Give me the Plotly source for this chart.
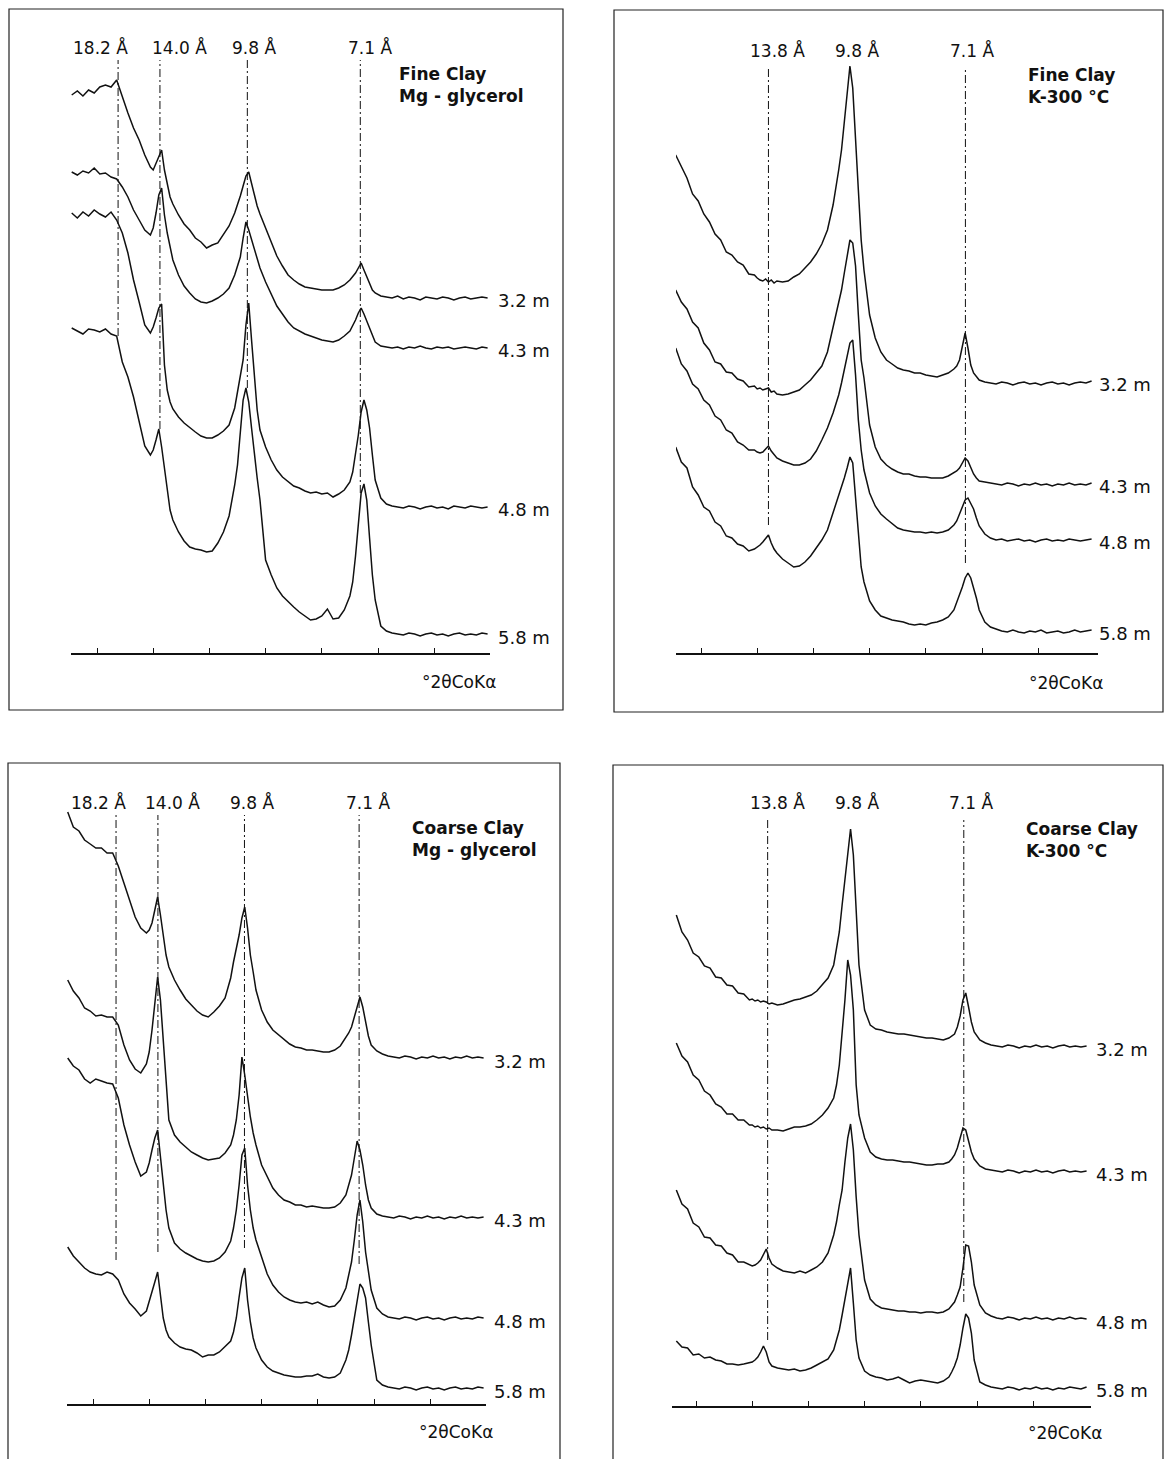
import plotly.graph_objects as go

W, H = 1165, 1459
PX_PER_DEG = 28.1

# Diffractometer sampling positions, degrees 2-theta (Co K-alpha)
two_theta = [4.1, 4.3, 4.5, 4.7, 4.9, 5.1, 5.3, 5.5, 5.7, 5.9, 6.1, 6.3, 6.5, 6.7, 6.9,
             7.0, 7.1, 7.2, 7.3, 7.4, 7.5, 7.6, 7.7,
             7.9, 8.1, 8.3, 8.5, 8.7, 8.9, 9.1, 9.3, 9.5, 9.7, 9.9,
             10.0, 10.1, 10.2, 10.3, 10.4, 10.5, 10.6, 10.7, 10.8,
             11.0, 11.2, 11.4, 11.6, 11.8, 12.0, 12.2, 12.4, 12.6, 12.8, 13.0, 13.2, 13.4, 13.6, 13.8,
             14.0, 14.1, 14.2, 14.3, 14.4, 14.5, 14.6, 14.7, 14.8, 14.9,
             15.1, 15.3, 15.5, 15.7, 15.9, 16.1, 16.3, 16.5, 16.7, 16.9, 17.1, 17.3, 17.5,
             17.7, 17.9, 18.1, 18.3, 18.5, 18.7, 18.9]
tick_2theta = [5, 7, 9, 11, 13, 15, 17]
depth_labels = ["3.2 m", "4.3 m", "4.8 m", "5.8 m"]

# Stacked intensities (arbitrary units), fine clay, Mg-glycerol
fine_mg_3_2 = [558, 562, 557, 563, 560, 566, 568, 566, 573, 556, 540, 525, 513, 498, 486,
               483, 490, 498, 503, 483, 468, 456, 449,
               438, 429, 423, 415, 411, 405, 408, 410, 418, 427, 440,
               448, 457, 467, 477, 481, 469, 457, 447, 439,
               425, 411, 397, 387, 378, 373, 369, 366, 365, 364, 363, 363, 363, 365, 368,
               373, 376, 380, 385, 390, 383, 376, 369, 363, 360,
               357, 356, 355, 357, 354, 356, 355, 353, 356, 355, 354, 356, 355, 353, 355, 356, 354, 355, 356, 355]
fine_mg_4_3 = [481, 478, 482, 480, 485, 479, 480, 476, 474, 466, 456, 443, 433, 423, 418,
               425, 440, 458, 465, 438, 420, 405, 393,
               378, 367, 360, 354, 351, 350, 352, 355, 359, 365, 378,
               388, 396, 415, 431, 423, 414, 404, 394, 385,
               371, 359, 347, 339, 331, 325, 322, 319, 317, 315, 313, 312, 311, 313, 317,
               322, 327, 333, 340, 345, 339, 332, 324, 316, 311,
               307, 306, 305, 306, 304, 306, 305, 307, 305, 304, 306, 305, 306, 304, 305, 306, 305, 304, 306, 305]
fine_mg_4_8 = [440, 435, 441, 437, 443, 439, 436, 441, 433, 420, 400, 373, 351, 328, 320,
               326, 335, 345, 349, 288, 263, 251, 244,
               236, 230, 225, 221, 217, 215, 215, 218, 222, 228, 245,
               261, 275, 293, 328, 350, 313, 273, 243, 223,
               206, 193, 183, 176, 171, 167, 165, 162, 160, 161, 159, 160, 156, 159, 163,
               171, 181, 198, 218, 241, 253, 243, 225, 198, 173,
               155, 149, 147, 146, 145, 147, 146, 144, 146, 147, 145, 146, 144, 147, 146, 145, 147, 146, 145, 146]
fine_mg_5_8 = [325, 322, 319, 324, 323, 321, 324, 319, 317, 291, 276, 256, 233, 207, 198,
               203, 213, 224, 206, 183, 161, 143, 133,
               121, 112, 106, 104, 103, 101, 102, 110, 121, 137, 168,
               188, 218, 253, 265, 251, 225, 198, 175, 153,
               93, 78, 65, 57, 51, 46, 41, 37, 33, 34, 37, 44, 34, 35, 43,
               57, 71, 97, 133, 160, 169, 153, 115, 78, 53,
               27, 22, 20, 19, 18, 20, 19, 17, 19, 20, 18, 19, 17, 19, 20, 18, 19, 18, 20, 19]

# Fine clay, K-saturated and heated to 300 C
fine_k_3_2 = [498, 486, 475, 459, 452, 439, 431, 419, 413, 401, 398, 391, 388, 379, 378,
              375, 373, 372, 374, 371, 373, 370, 372,
              371, 372, 376, 379, 385, 391, 399, 409, 423, 448, 483,
              503, 531, 558, 587, 565, 508, 463, 413, 383,
              338, 315, 301, 293, 289, 285, 283, 282, 280, 280, 278, 277, 276, 278, 280,
              284, 287, 293, 308, 320, 305, 288, 280, 276, 273,
              271, 270, 269, 271, 270, 268, 270, 271, 269, 270, 268, 270, 271, 269, 270, 268, 270, 271, 270, 272]
fine_k_4_3 = [363, 351, 344, 331, 325, 310, 303, 291, 289, 281, 280, 274, 272, 266, 267,
              264, 265, 263, 264, 265, 261, 262, 259,
              258, 259, 261, 263, 268, 273, 280, 287, 301, 325, 350,
              363, 380, 398, 413, 410, 387, 338, 293, 275,
              228, 206, 194, 188, 184, 181, 179, 179, 177, 176, 176, 175, 175, 175, 177,
              180, 182, 185, 190, 195, 192, 185, 179, 175, 172,
              171, 170, 169, 168, 170, 169, 167, 169, 168, 170, 168, 169, 167, 169, 168, 170, 168, 169, 168, 170]
fine_k_4_8 = [305, 289, 282, 269, 264, 253, 248, 237, 233, 223, 220, 211, 208, 203, 203,
              201, 200, 201, 204, 207, 202, 198, 195,
              192, 190, 188, 188, 190, 194, 202, 213, 225, 240, 258,
              270, 283, 296, 310, 313, 278, 233, 203, 183,
              160, 147, 139, 134, 129, 125, 123, 122, 121, 121, 120, 121, 120, 121, 123,
              128, 132, 139, 147, 153, 155, 150, 144, 135, 127,
              119, 115, 113, 114, 112, 113, 114, 112, 113, 111, 113, 114, 112, 113, 112, 114, 113, 112, 113, 114]
fine_k_5_8 = [206, 191, 185, 166, 158, 146, 142, 131, 127, 117, 115, 109, 107, 102, 104,
              106, 108, 111, 115, 118, 110, 104, 100,
              94, 90, 86, 87, 91, 97, 105, 113, 123, 140, 158,
              167, 175, 185, 196, 190, 153, 118, 86, 71,
              52, 43, 37, 35, 33, 32, 31, 29, 28, 29, 28, 30, 31, 33, 36,
              43, 50, 58, 66, 75, 80, 75, 66, 55, 43,
              31, 26, 24, 22, 21, 23, 21, 20, 22, 21, 23, 20, 21, 22, 20, 21, 23, 21, 22, 23]

# Coarse clay, Mg-glycerol
coarse_mg_3_2 = [592, 577, 573, 564, 560, 556, 556, 551, 551, 538, 521, 504, 487, 476, 471,
                 474, 481, 494, 507, 489, 467, 449, 437,
                 424, 414, 405, 399, 393, 389, 387, 392, 398, 406, 426,
                 442, 454, 469, 486, 497, 476, 449, 432, 414,
                 394, 382, 374, 369, 364, 360, 357, 356, 354, 354, 353, 352, 352, 354, 358,
                 366, 371, 377, 387, 399, 407, 397, 384, 368, 359,
                 353, 350, 348, 347, 346, 348, 347, 345, 347, 346, 348, 346, 347, 345, 347, 346, 348, 346, 347, 346]
coarse_mg_4_3 = [424, 413, 406, 396, 393, 388, 389, 387, 387, 379, 359, 344, 335, 331, 340,
                 352, 374, 404, 427, 404, 364, 324, 284,
                 269, 262, 257, 252, 249, 246, 244, 245, 246, 251, 259,
                 269, 284, 309, 347, 329, 306, 287, 271, 259,
                 239, 227, 216, 209, 204, 202, 199, 199, 197, 198, 197, 196, 196, 197, 201,
                 209, 219, 229, 246, 263, 254, 239, 219, 204, 196,
                 190, 188, 187, 186, 188, 187, 185, 187, 186, 188, 186, 187, 185, 187, 186, 188, 186, 187, 186, 187]
coarse_mg_4_8 = [346, 338, 334, 325, 321, 325, 323, 321, 320, 306, 279, 259, 242, 228, 232,
                 241, 254, 266, 274, 249, 219, 194, 176,
                 161, 155, 151, 148, 145, 143, 142, 143, 146, 152, 163,
                 176, 194, 219, 249, 256, 219, 194, 176, 164,
                 148, 130, 119, 112, 107, 104, 102, 101, 102, 100, 102, 99, 97, 98, 104,
                 116, 129, 142, 164, 189, 204, 182, 152, 131, 114,
                 96, 90, 87, 86, 85, 87, 86, 84, 86, 87, 85, 86, 84, 86, 87, 85, 86, 85, 87, 86]
coarse_mg_5_8 = [157, 148, 142, 136, 132, 130, 129, 132, 130, 124, 110, 101, 95, 88, 93,
                 102, 112, 122, 132, 109, 86, 74, 67,
                 61, 57, 55, 54, 51, 47, 49, 49, 52, 57, 63,
                 72, 86, 107, 126, 136, 104, 82, 66, 56,
                 44, 37, 33, 31, 29, 28, 27, 27, 28, 28, 30, 27, 26, 27, 31,
                 44, 54, 69, 86, 106, 120, 116, 106, 82, 59,
                 24, 19, 17, 16, 15, 17, 16, 14, 16, 17, 15, 16, 14, 16, 17, 15, 16, 15, 17, 16]

# Coarse clay, K-saturated and heated to 300 C
coarse_k_3_2 = [None, 491, 474, 466, 453, 449, 440, 438, 429, 428, 421, 420, 413, 412, 406,
                407, 405, 406, 404, 405, 404, 402, 403,
                401, 402, 404, 406, 407, 409, 411, 415, 421, 428, 441,
                456, 474, 501, 526, 556, 577, 551, 496, 441,
                396, 381, 377, 376, 374, 373, 372, 372, 371, 370, 369, 368, 368, 367, 366,
                368, 370, 372, 379, 390, 406, 413, 399, 384, 374,
                366, 363, 361, 360, 359, 361, 360, 358, 360, 359, 361, 359, 360, 358, 360, 361, 359, 360, 359, 360]
coarse_k_4_3 = [None, 363, 350, 344, 331, 326, 315, 311, 302, 299, 292, 292, 286, 286, 281,
                281, 279, 280, 278, 279, 277, 278, 276,
                276, 275, 277, 279, 279, 280, 282, 286, 291, 298, 308,
                321, 341, 371, 406, 446, 431, 396, 321, 291,
                268, 254, 249, 247, 246, 246, 245, 244, 244, 243, 242, 241, 241, 242, 242,
                244, 247, 251, 258, 268, 278, 276, 264, 254, 247,
                240, 237, 236, 235, 234, 236, 235, 233, 235, 234, 236, 234, 235, 233, 235, 236, 234, 235, 234, 235]
coarse_k_4_8 = [None, 216, 202, 197, 183, 179, 169, 168, 161, 160, 153, 151, 144, 144, 141,
                140, 141, 143, 146, 151, 157, 148, 142,
                138, 135, 134, 133, 135, 133, 136, 139, 144, 153, 171,
                184, 201, 216, 244, 268, 282, 256, 209, 171,
                126, 107, 101, 98, 97, 96, 95, 95, 94, 94, 93, 94, 94, 93, 94,
                97, 100, 104, 111, 119, 138, 161, 160, 144, 121,
                101, 93, 90, 88, 87, 89, 88, 86, 88, 87, 89, 87, 88, 86, 88, 87, 89, 87, 88, 87]
coarse_k_5_8 = [None, 65, 59, 58, 51, 52, 48, 49, 46, 45, 42, 42, 41, 42, 43,
                44, 46, 49, 54, 60, 54, 44, 40,
                38, 37, 36, 37, 35, 36, 38, 41, 44, 47, 56,
                66, 76, 91, 106, 123, 138, 103, 66, 48,
                35, 31, 29, 28, 26, 27, 29, 26, 23, 25, 26, 25, 24, 23, 25,
                29, 34, 40, 48, 61, 78, 92, 88, 73, 46,
                24, 21, 19, 18, 17, 19, 18, 16, 18, 17, 19, 17, 18, 16, 18, 17, 19, 18, 17, 19]

# Reflections marked in each panel: d-spacing text and position (degrees 2-theta)
mg_d_labels = ["18.2 Å", "14.0 Å", "9.8 Å", "7.1 Å"]
fine_mg_peaks = [5.75, 7.24, 10.35, 14.37]
coarse_mg_peaks = [5.82, 7.31, 10.39, 14.47]
k_d_labels = ["13.8 Å", "9.8 Å", "7.1 Å"]
fine_k_peaks = [7.40, None, 14.41]
coarse_k_peaks = [7.55, None, 14.53]

FONT = "DejaVu Sans, Liberation Sans, Arial, sans-serif"

panels = [
    dict(title=("Fine Clay", "Mg - glycerol"),
         series=[fine_mg_3_2, fine_mg_4_3, fine_mg_4_8, fine_mg_5_8],
         d_labels=mg_d_labels, peaks=fine_mg_peaks,
         box=(9, 9, 563, 710), deg5_px=97, axis_px=(71, 490), axis_y=653, top_y=9,
         label_px=[100, 179, 254, 370], label_y=48, line_top_y=60, line_gap=0,
         title_px=(397, 85), depth_x=496, unit_px=(420, 682)),
    dict(title=("Fine Clay", "K-300 °C"),
         series=[fine_k_3_2, fine_k_4_3, fine_k_4_8, fine_k_5_8],
         d_labels=k_d_labels, peaks=fine_k_peaks,
         box=(614, 10, 1163, 712), deg5_px=701, axis_px=(676, 1098), axis_y=653, top_y=10,
         label_px=[777, 857, 972], label_y=50, line_top_y=67, line_gap=10,
         title_px=(1026, 86), depth_x=1097, unit_px=(1027, 683)),
    dict(title=("Coarse Clay", "Mg - glycerol"),
         series=[coarse_mg_3_2, coarse_mg_4_3, coarse_mg_4_8, coarse_mg_5_8],
         d_labels=mg_d_labels, peaks=coarse_mg_peaks,
         box=(8, 763, 560, 1465), deg5_px=93, axis_px=(67, 486), axis_y=1404, top_y=763,
         label_px=[98, 172, 252, 368], label_y=803, line_top_y=815, line_gap=20,
         title_px=(410, 839), depth_x=492, unit_px=(417, 1432)),
    dict(title=("Coarse Clay", "K-300 °C"),
         series=[coarse_k_3_2, coarse_k_4_3, coarse_k_4_8, coarse_k_5_8],
         d_labels=k_d_labels, peaks=coarse_k_peaks,
         box=(613, 765, 1163, 1465), deg5_px=696, axis_px=(672, 1091), axis_y=1406, top_y=765,
         label_px=[777, 857, 971], label_y=803, line_top_y=820, line_gap=12,
         title_px=(1024, 840), depth_x=1094, unit_px=(1026, 1433)),
]


def px_x(px):
    return px / W


def px_y(py):
    return 1 - py / H


def peak_height(xs, ys, pos, half_width=0.11):
    vals = [y for x, y in zip(xs, ys) if y is not None and abs(x - pos) <= half_width]
    return max(vals)


fig = go.Figure()
annotations = []
shapes = []
black = "#111111"

for i, p in enumerate(panels, start=1):
    sfx = "" if i == 1 else str(i)
    xref, yref = "x" + sfx, "y" + sfx
    x_lo = 5 + (p["axis_px"][0] - p["deg5_px"]) / PX_PER_DEG
    x_hi = 5 + (p["axis_px"][1] - p["deg5_px"]) / PX_PER_DEG
    y_hi = p["axis_y"] - p["top_y"]

    fig.layout["xaxis" + sfx] = dict(
        domain=[px_x(p["axis_px"][0]), px_x(p["axis_px"][1])], range=[x_lo, x_hi],
        anchor=yref, showline=True, linecolor=black, linewidth=1.5,
        ticks="inside", tickvals=tick_2theta, ticklen=5, tickwidth=1.2, tickcolor=black,
        showticklabels=False, showgrid=False, zeroline=False, fixedrange=True)
    fig.layout["yaxis" + sfx] = dict(
        domain=[px_y(p["axis_y"]), px_y(p["top_y"])], range=[0, y_hi],
        anchor=xref, visible=False, fixedrange=True)

    # vertical dash-dot markers for the reflections
    lowest = p["series"][-1]
    line_top = p["axis_y"] - p["line_top_y"]
    for pos in p["peaks"]:
        if pos is None:
            continue
        bottom = peak_height(two_theta, lowest, pos) + p["line_gap"]
        fig.add_trace(go.Scatter(
            x=[pos, pos], y=[bottom, line_top], mode="lines", xaxis=xref, yaxis=yref,
            line=dict(color=black, width=1, dash="8px,3px,2px,3px"), hoverinfo="skip"))

    # diffraction patterns
    for ys, depth in zip(p["series"], depth_labels):
        fig.add_trace(go.Scatter(
            x=two_theta, y=ys, mode="lines", xaxis=xref, yaxis=yref, name=depth,
            line=dict(color=black, width=1.5), hoverinfo="skip"))
        last = [v for v in ys if v is not None][-1]
        annotations.append(dict(
            text=depth, xref="paper", x=px_x(p["depth_x"]), xanchor="left",
            yref=yref, y=last, yanchor="middle", yshift=-3, showarrow=False,
            font=dict(family=FONT, size=18, color=black)))

    # d-spacing labels
    for txt, lx in zip(p["d_labels"], p["label_px"]):
        annotations.append(dict(
            text=txt, xref="paper", x=px_x(lx), xanchor="center",
            yref="paper", y=px_y(p["label_y"]), yanchor="middle", showarrow=False,
            font=dict(family=FONT, size=17, color=black)))

    # sample / treatment title (two lines)
    tx, ty = p["title_px"]
    annotations.append(dict(
        text="<b>" + p["title"][0] + "</b><br><b>" + p["title"][1] + "</b>",
        xref="paper", x=px_x(tx), xanchor="left", align="left",
        yref="paper", y=px_y(ty), yanchor="middle", showarrow=False,
        font=dict(family=FONT, size=17, color=black)))

    # axis unit
    ux, uy = p["unit_px"]
    annotations.append(dict(
        text="°2θCoKα", xref="paper", x=px_x(ux), xanchor="left",
        yref="paper", y=px_y(uy), yanchor="middle", showarrow=False,
        font=dict(family=FONT, size=17, color=black)))

    # panel frame
    x0, y0, x1, y1 = p["box"]
    shapes.append(dict(type="rect", xref="paper", yref="paper",
                       x0=px_x(x0), x1=px_x(x1), y0=px_y(y1), y1=px_y(y0),
                       line=dict(color="#222222", width=1.2), layer="below"))

fig.update_layout(
    width=W, height=H, margin=dict(l=0, r=0, t=0, b=0),
    paper_bgcolor="white", plot_bgcolor="rgba(0,0,0,0)",
    showlegend=False, annotations=annotations, shapes=shapes,
    font=dict(family=FONT, color=black))

fig.write_html("out.html")
